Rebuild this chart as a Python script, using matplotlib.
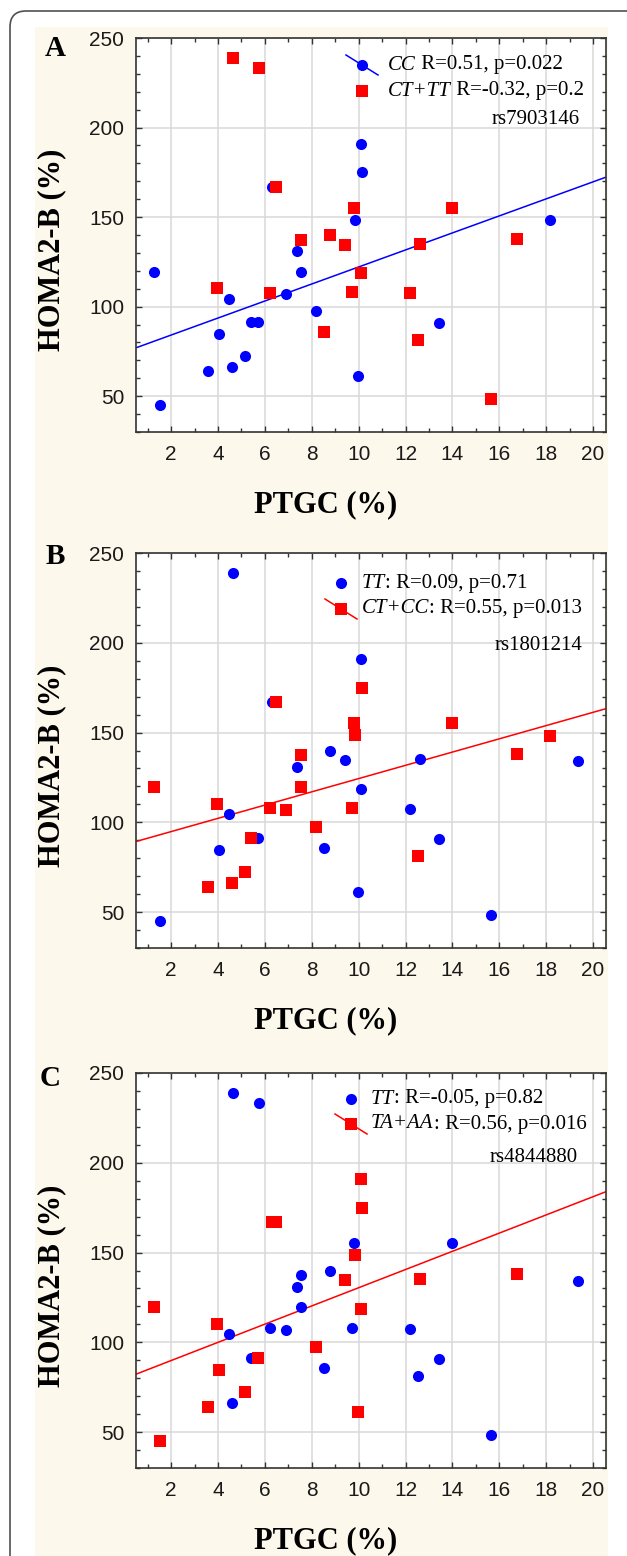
import numpy as np
import matplotlib
matplotlib.use('Agg')
import matplotlib.pyplot as plt
from matplotlib.patches import FancyBboxPatch, Rectangle
from matplotlib.lines import Line2D
from matplotlib.text import Annotation
from matplotlib.ticker import MultipleLocator

# ---------------- data ----------------
ptgc = [1.27, 1.52, 3.57, 3.94, 4.04, 4.47, 4.59, 4.64, 5.15, 5.41, 5.70, 5.73,
        6.22, 6.29, 6.46, 6.90, 7.36, 7.52, 7.55, 8.16, 8.52, 8.79, 9.43, 9.73,
        9.82, 9.83, 9.95, 10.11, 10.11, 10.16, 12.20, 12.54, 12.63, 13.44, 13.97,
        15.64, 16.75, 18.18, 19.34]
homa = [119.4, 45.3, 64.0, 110.3, 84.8, 104.5, 66.4, 238.7, 72.3, 91.3, 91.3, 233.3,
        107.7, 166.8, 166.8, 107.1, 130.9, 119.6, 137.4, 97.3, 85.7, 139.9, 134.5, 107.9,
        155.1, 148.4, 61.0, 191.0, 118.7, 175.0, 107.5, 81.1, 135.0, 90.7, 155.1,
        48.5, 137.8, 148.2, 134.4]
# genotype group per subject: b = first group (blue), r = second group (red), - = missing
geno_A = "bbbr bbbr bbbr rbrb bbrb rrrr rbbb rbrr rbrr rb-".replace(' ', '')
geno_B = "rbrr bbrb rrb- rbrr brrr bbbr rrbb brbr bbrb rrb".replace(' ', '')
geno_C = "rrrr rbbb rbrb brrb bbbr bbrb brrr rrbb rbbb r-b".replace(' ', '')

panel_letters = ['A', 'B', 'C']
snp_names = ['rs7903146', 'rs1801214', 'rs4844880']
group1_labels = [('CC', ' R=0.51, p=0.022'), ('TT', ': R=0.09, p=0.71'), ('TT', ': R=-0.05, p=0.82')]
group2_labels = [('CT+TT', ' R=-0.32, p=0.2'), ('CT+CC', ': R=0.55, p=0.013'), ('TA+AA', ': R=0.56, p=0.016')]
fit_group = ['b', 'r', 'r']

x_ticks = [2, 4, 6, 8, 10, 12, 14, 16, 18, 20]
y_ticks = [50, 100, 150, 200, 250]

# ---------------- style ----------------
W, H = 627, 1556
BLUE = '#0000ff'
RED = '#ff0000'
SERIF = 'Liberation Serif'
SANS = 'Liberation Sans'
LEG_FS = 15

fig = plt.figure(figsize=(W / 100, H / 100), dpi=100)
fig.patch.set_facecolor('white')

cream = Rectangle((35 / W, 0), (608 - 35) / W, (H - 27) / H, transform=fig.transFigure,
                  facecolor='#fdf8ec', edgecolor='none', zorder=-5)
fig.add_artist(cream)
border = FancyBboxPatch((10, -60), 800, H - 11 + 60, boxstyle='round,pad=0,rounding_size=16',
                        transform=None, fill=False, edgecolor='#505050', linewidth=1.2, zorder=10)
fig.add_artist(border)


def fx(px):
    return px / W


def fy(py):
    return 1 - py / H


layout = [
    dict(top=38, bottom=432, letter=(55, 49), mk_x=362, rows=(65, 91, 119), txt_x=388, rs_x=580,
         line_row=0),
    dict(top=553, bottom=948, letter=(55, 556), mk_x=341, rows=(583, 609, 646), txt_x=362, rs_x=582,
         line_row=1),
    dict(top=1073, bottom=1468, letter=(50, 1079), mk_x=351, rows=(1099, 1124, 1157), txt_x=371, rs_x=578,
         line_row=1),
]

xs = np.array(ptgc)
ys = np.array(homa)
genos = [geno_A, geno_B, geno_C]

for i, L in enumerate(layout):
    top, bot = L['top'], L['bottom']
    ax = fig.add_axes([fx(136), fy(bot), (606 - 136) / W, (bot - top) / H])
    ax.set_facecolor('white')
    g = np.array(list(genos[i]))
    bm = g == 'b'
    rm = g == 'r'

    ax.set_xlim(0.5, 20.55)
    ax.set_ylim(30, 250)
    ax.set_xticks(x_ticks)
    ax.set_yticks(y_ticks)
    ax.xaxis.set_minor_locator(MultipleLocator(1))
    ax.yaxis.set_minor_locator(MultipleLocator(10))
    ax.grid(True, which='major', color='#d9d9d9', linewidth=1.1)
    ax.set_axisbelow(True)

    ax.plot(xs[bm], ys[bm], 'o', color=BLUE, ms=8, mew=0, zorder=3)
    ax.plot(xs[rm], ys[rm], 's', color=RED, ms=8, mew=0, zorder=4)

    fm = bm if fit_group[i] == 'b' else rm
    slope, intercept = np.polyfit(xs[fm], ys[fm], 1)
    xl = np.array(ax.get_xlim())
    ax.plot(xl, intercept + slope * xl, color=BLUE if fit_group[i] == 'b' else RED,
            lw=1.1, zorder=2, solid_capstyle='butt')

    for sp in ax.spines.values():
        sp.set_color('#333333')
        sp.set_linewidth(1.2)
    ax.tick_params(which='both', direction='in', top=True, right=True, color='#333333', width=1.0)
    ax.tick_params(which='major', length=4)
    ax.tick_params(which='minor', length=3)
    ax.tick_params(axis='x', pad=9.5, labelsize=15, labelcolor='#1a1a1a')
    ax.tick_params(axis='y', pad=8.5, labelsize=15, labelcolor='#1a1a1a')
    for lab in ax.get_xticklabels() + ax.get_yticklabels():
        lab.set_family(SANS)

    # axis titles
    fig.text(fx(52), fy((top + bot) / 2 + 15), 'HOMA2-B (%)', rotation=90, ha='center', va='center',
             fontsize=22, fontweight='bold', family=SERIF)
    fig.text(fx(326), fy(bot + 73), 'PTGC (%)', ha='center', va='center',
             fontsize=22, fontweight='bold', family=SERIF)
    lx, ly = L['letter']
    fig.text(fx(lx), fy(ly), panel_letters[i], ha='center', va='center',
             fontsize=21, fontweight='bold', family=SERIF)

    # legend block
    mk_x = L['mk_x']
    r1, r2, r3 = L['rows']
    for row, (mk, col, labs) in enumerate([('o', BLUE, group1_labels[i]), ('s', RED, group2_labels[i])]):
        ry = (r1, r2)[row]
        fig.add_artist(Line2D([fx(mk_x)], [fy(ry)], marker=mk, color=col, ms=8, mew=0,
                              linestyle='none', transform=fig.transFigure, zorder=6))
        if row == L['line_row']:
            fig.add_artist(Line2D([fx(mk_x - 16), fx(mk_x + 16)], [fy(ry - 10), fy(ry + 10)],
                                  color=col, lw=1.1, transform=fig.transFigure, zorder=5))
        t1 = fig.text(fx(L['txt_x']), fy(ry), labs[0], ha='left', va='center', fontsize=LEG_FS,
                      style='italic', family=SERIF, zorder=6)
        a = Annotation(labs[1], xy=(1, 0), xycoords=t1, ha='left', va='bottom', fontsize=LEG_FS,
                       family=SERIF, zorder=6)
        fig.add_artist(a)
    fig.text(fx(L['rs_x']), fy(r3), snp_names[i], ha='right', va='center', fontsize=LEG_FS,
             family=SERIF, zorder=6)

fig.savefig('out.png', dpi=100, facecolor='white')
